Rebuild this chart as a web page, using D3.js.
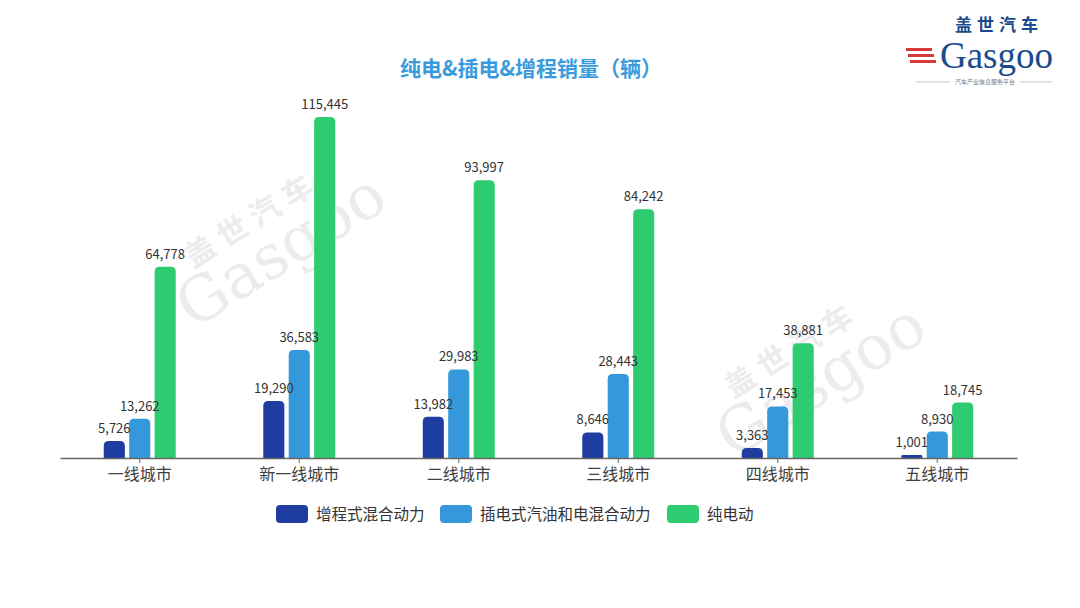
<!DOCTYPE html>
<html>
<head>
<meta charset="utf-8">
<script src="https://cdn.jsdelivr.net/npm/d3@7"></script>
<style>
  html, body { margin: 0; padding: 0; background: #fff; }
  svg { display: block; font-family: "Noto Sans CJK SC", "Noto Sans", sans-serif; }
</style>
</head>
<body>
<svg id="chart" width="1080" height="608"></svg>
<script>
// city tiers and sales per powertrain type
const cities = ['一线城市', '新一线城市', '二线城市', '三线城市', '四线城市', '五线城市']
const seriesNames = ['增程式混合动力', '插电式汽油和电混合动力', '纯电动']
const erev = [5726, 19290, 13982, 8646, 3363, 1001]
const phev = [13262, 36583, 29983, 28443, 17453, 8930]
const bev = [64778, 115445, 93997, 84242, 38881, 18745]
const colors = ['#1f3da0', '#3498db', '#2ecc71']

const svg = d3.select('#chart')
const base = 458

const x = d3.scaleBand().domain(cities).range([60, 1017])
const sub = d3.scaleBand().domain(seriesNames).range([0, 72]).paddingInner(0.17)
const y = d3.scaleLinear().domain([0, 120000]).range([base, 103.5])

// faint watermark logos behind the bars
function watermark(cx, cy) {
  const g = svg.append('g')
    .attr('transform', `translate(${cx},${cy}) rotate(-32)`)
    .attr('fill', '#ececec')
  g.append('text').attr('x', 0).attr('y', 0)
    .attr('text-anchor', 'middle')
    .attr('font-family', '"DejaVu Serif", "Liberation Serif", serif')
    .attr('font-size', 62)
    .text('Gasgoo')
  g.append('text').attr('x', -8).attr('y', -52)
    .attr('text-anchor', 'middle')
    .attr('font-size', 30).attr('font-weight', 'bold')
    .attr('letter-spacing', 8)
    .text('盖世汽车')
}
watermark(292, 268)
watermark(832, 398)

// title
svg.append('text')
  .attr('x', 531).attr('y', 76)
  .attr('text-anchor', 'middle')
  .attr('fill', '#3a9bdc')
  .attr('font-size', 21).attr('font-weight', 'bold')
  .text('纯电&插电&增程销量（辆）')

// bars
const rows = cities.map((c, i) => ({ city: c, vals: [erev[i], phev[i], bev[i]] }))
const groups = svg.append('g').selectAll('g')
  .data(rows).join('g')
  .attr('transform', d => `translate(${x(d.city) + x.bandwidth() / 2 - 36},0)`)

groups.selectAll('path')
  .data(d => d.vals.map((v, k) => ({ v, k })))
  .join('path')
  .attr('fill', d => colors[d.k])
  .attr('d', d => {
    const x0 = sub(seriesNames[d.k]), w = sub.bandwidth()
    const top = y(d.v), h = base - top
    const r = Math.min(5, h / 2, w / 2)
    return `M${x0},${base} V${top + r} Q${x0},${top} ${x0 + r},${top} H${x0 + w - r} Q${x0 + w},${top} ${x0 + w},${top + r} V${base} Z`
  })

groups.selectAll('text')
  .data(d => d.vals.map((v, k) => ({ v, k })))
  .join('text')
  .attr('x', d => sub(seriesNames[d.k]) + sub.bandwidth() / 2)
  .attr('y', d => y(d.v) - 8)
  .attr('text-anchor', 'middle')
  .attr('fill', '#333')
  .attr('font-size', 13)
  .text(d => d3.format(',')(d.v))

// x axis
const xAxis = svg.append('g')
  .attr('transform', `translate(0,${base})`)
  .call(d3.axisBottom(x).tickSize(5).tickSizeOuter(0).tickPadding(6))
xAxis.select('.domain').attr('stroke', '#666').attr('stroke-width', 1.5)
xAxis.selectAll('.tick line').attr('stroke', '#666')
xAxis.selectAll('.tick text')
  .attr('fill', '#404040')
  .attr('font-size', 16)
  .attr('font-family', '"Noto Sans CJK SC", sans-serif')

// legend
const legendX = [276, 440, 667]
const legend = svg.append('g').selectAll('g')
  .data(seriesNames).join('g')
  .attr('transform', (d, i) => `translate(${legendX[i]},505)`)
legend.append('rect')
  .attr('width', 32).attr('height', 18).attr('rx', 4)
  .attr('fill', (d, i) => colors[i])
legend.append('text')
  .attr('x', 40).attr('y', 15)
  .attr('fill', '#333').attr('font-size', 15.5)
  .text(d => d)

// logo, top right
const logo = svg.append('g')
logo.append('text')
  .attr('x', 999).attr('y', 31)
  .attr('text-anchor', 'middle')
  .attr('fill', '#1b4b8c')
  .attr('font-size', 17).attr('font-weight', 'bold')
  .attr('letter-spacing', 5)
  .text('盖世汽车')
logo.append('text')
  .attr('x', 1053).attr('y', 68)
  .attr('text-anchor', 'end')
  .attr('fill', '#1b4b8c')
  .attr('font-family', '"Liberation Serif", "DejaVu Serif", serif')
  .attr('font-size', 37)
  .text('Gasgoo')
logo.selectAll('rect.stripe')
  .data([48, 54, 60]).join('rect')
  .attr('x', (d, i) => 906 + i * 2).attr('y', d => d)
  .attr('width', 26).attr('height', 3)
  .attr('fill', '#d63a3a')
logo.append('text')
  .attr('x', 985).attr('y', 84)
  .attr('text-anchor', 'middle')
  .attr('fill', '#777').attr('font-size', 6)
  .text('汽车产业信息服务平台')
logo.selectAll('line')
  .data([[916, 950], [1020, 1052]]).join('line')
  .attr('x1', d => d[0]).attr('x2', d => d[1])
  .attr('y1', 82).attr('y2', 82)
  .attr('stroke', '#bbb').attr('stroke-width', 0.8)
</script>
</body>
</html>
